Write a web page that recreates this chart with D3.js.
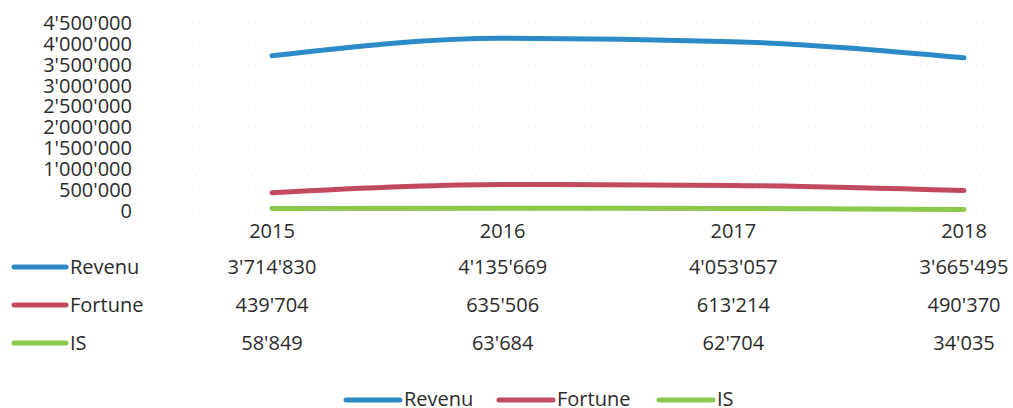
<!DOCTYPE html>
<html>
<head>
<meta charset="utf-8">
<script src="https://cdn.jsdelivr.net/npm/d3@7"></script>
<style>
  body { margin: 0; background: #fff; }
  svg text { font-family: "Open Sans", "Noto Sans", sans-serif; fill: #2b2b2b; }
</style>
</head>
<body>
<div id="chart"></div>
<script>
const years = ["2015", "2016", "2017", "2018"];
const seriesNames = ["Revenu", "Fortune", "IS"];
const revenu = [3714830, 4135669, 4053057, 3665495];
const fortune = [439704, 635506, 613214, 490370];
const impot = [58849, 63684, 62704, 34035];
const yTicks = [0, 500000, 1000000, 1500000, 2000000, 2500000, 3000000, 3500000, 4000000, 4500000];
const colors = ["#2c8bc7", "#c2495f", "#8cc84b"];

const width = 1013, height = 408;
const series = [revenu, fortune, impot].map((values, i) => ({ name: seriesNames[i], values: values, color: colors[i] }));

// thousands separator with apostrophe (swiss style)
const fmt = d3.formatLocale({ decimal: ".", thousands: "'", grouping: [3], currency: ["", ""] }).format(",");

const svg = d3.select("#chart").append("svg")
    .attr("width", width)
    .attr("height", height);

const xScale = d3.scalePoint().domain(years).range([272, 964]);
const yScale = d3.scaleLinear().domain([0, 4500000]).range([211, 23]);

// faint dotted gridlines
svg.append("g")
    .selectAll("line")
    .data(yTicks)
    .join("line")
    .attr("x1", 150)
    .attr("x2", 1005)
    .attr("y1", d => yScale(d))
    .attr("y2", d => yScale(d))
    .attr("stroke", "#ececec")
    .attr("stroke-width", 1)
    .attr("stroke-dasharray", "1,6");

// y axis labels
const yAxis = svg.append("g")
    .attr("transform", "translate(132,0)")
    .call(d3.axisLeft(yScale).tickValues(yTicks).tickFormat(fmt).tickSize(0).tickPadding(0));
yAxis.select(".domain").remove();
yAxis.selectAll("text")
    .attr("font-size", 20)
    .attr("font-family", "Open Sans")
    .attr("fill", "#2b2b2b");

// lines
const line = d3.line()
    .x((d, i) => xScale(years[i]))
    .y(d => yScale(d))
    .curve(d3.curveMonotoneX);

svg.append("g")
    .selectAll("path")
    .data(series)
    .join("path")
    .attr("d", d => line(d.values))
    .attr("fill", "none")
    .attr("stroke", d => d.color)
    .attr("stroke-width", 5)
    .attr("stroke-linecap", "round");

// category labels
svg.append("g")
    .selectAll("text")
    .data(years)
    .join("text")
    .attr("x", d => xScale(d))
    .attr("y", 238)
    .attr("text-anchor", "middle")
    .attr("font-size", 20)
    .text(d => d);

// data table
const rowY = [267, 305, 343];
const table = svg.append("g");
series.forEach((s, r) => {
    table.append("line")
        .attr("x1", 14).attr("x2", 66)
        .attr("y1", rowY[r]).attr("y2", rowY[r])
        .attr("stroke", s.color)
        .attr("stroke-width", 5)
        .attr("stroke-linecap", "round");
    table.append("text")
        .attr("x", 70)
        .attr("y", rowY[r] + 7)
        .attr("font-size", 20)
        .text(s.name);
    table.append("g")
        .selectAll("text")
        .data(s.values)
        .join("text")
        .attr("x", (d, i) => xScale(years[i]))
        .attr("y", rowY[r] + 7)
        .attr("text-anchor", "middle")
        .attr("font-size", 20)
        .text(d => fmt(d));
});

// bottom legend
const legendX = [346, 499, 659];
const legend = svg.append("g");
series.forEach((s, i) => {
    legend.append("line")
        .attr("x1", legendX[i]).attr("x2", legendX[i] + 54)
        .attr("y1", 400).attr("y2", 400)
        .attr("stroke", s.color)
        .attr("stroke-width", 5)
        .attr("stroke-linecap", "round");
    legend.append("text")
        .attr("x", legendX[i] + 58)
        .attr("y", 406)
        .attr("font-size", 20)
        .text(s.name);
});
</script>
</body>
</html>
